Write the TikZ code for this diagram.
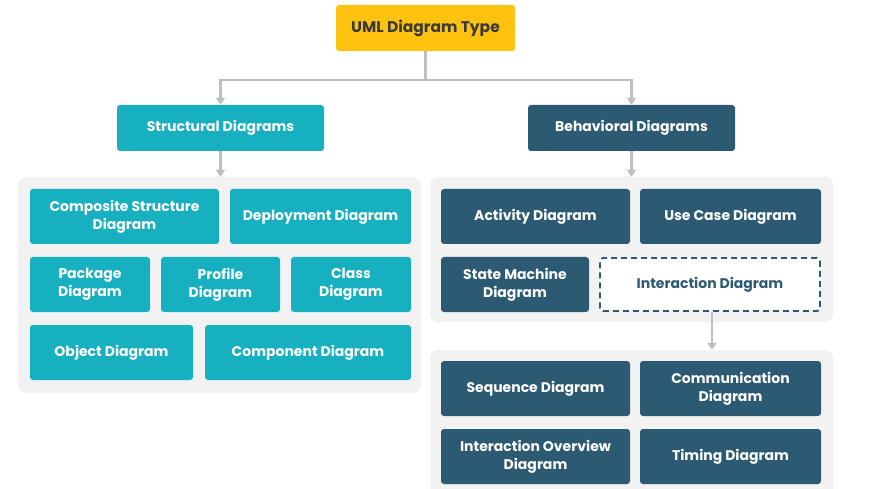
\documentclass[tikz,border=0pt]{standalone}
\usepackage{fontspec}
\setmainfont{Poppins}
\usetikzlibrary{arrows.meta}
\definecolor{uyellow}{HTML}{FFC20E}
\definecolor{uteal}{HTML}{17B0C0}
\definecolor{ublue}{HTML}{2D5A73}
\definecolor{upanel}{HTML}{F2F2F2}
\definecolor{uline}{HTML}{BFBFBF}
\definecolor{utext}{HTML}{3A3A3A}
\tikzset{
  box/.style={rounded corners=3pt, align=center, inner sep=0pt,
    font=\bfseries\fontsize{14}{18}\selectfont, text=white},
  tealbox/.style={box, fill=uteal},
  bluebox/.style={box, fill=ublue},
  panel/.style={fill=upanel, rounded corners=8pt, inner sep=0pt},
  conn/.style={draw=uline, line width=2.5pt, -{Triangle[length=7pt,width=9pt]}},
}
\newcommand{\bx}[6]{\node[#1, minimum width=#4pt, minimum height=#5pt] (#2) at (#3) {#6};}
\begin{document}
\begin{tikzpicture}[x=1pt,y=-1pt]
\useasboundingbox (0,0) rectangle (881,489);
% panels
\node[panel, minimum width=403pt, minimum height=216pt] (lp) at (219.5,285) {};
\node[panel, minimum width=403pt, minimum height=145pt] (rp1) at (631.5,249.5) {};
\node[panel, minimum width=403pt, minimum height=150pt] (rp2) at (631.5,425) {};
% top
\bx{box, fill=uyellow, text=utext, font=\bfseries\fontsize{15.5}{18}\selectfont}{top}{425.5,28}{179}{46}{UML Diagram Type}
\bx{tealbox}{struct}{220.5,128}{207}{46}{Structural Diagrams}
\bx{bluebox}{behav}{631.5,128}{207}{46}{Behavioral Diagrams}
% structural
\bx{tealbox}{comp}{124.5,216.5}{189}{55}{Composite Structure\\Diagram}
\bx{tealbox}{deploy}{320.5,216.5}{181}{55}{Deployment Diagram}
\bx{tealbox}{package}{90,284.5}{120}{55}{Package\\Diagram}
\bx{tealbox}{profile}{220.5,284.5}{119}{55}{Profile\\Diagram}
\bx{tealbox}{class}{351,284.5}{120}{55}{Class\\Diagram}
\bx{tealbox}{object}{111.5,352.5}{163}{55}{Object Diagram}
\bx{tealbox}{component}{308,352.5}{206}{55}{Component Diagram}
% behavioral
\bx{bluebox}{activity}{535.5,216.5}{189}{55}{Activity Diagram}
\bx{bluebox}{usecase}{730.5,216.5}{181}{55}{Use Case Diagram}
\bx{bluebox}{state}{515,284.5}{148}{55}{State Machine\\Diagram}
\node[box, fill=white, text=ublue, draw=ublue, line width=1.8pt,
  dash pattern=on 6pt off 4pt, minimum width=220pt, minimum height=53pt]
  (inter) at (710,284.5) {Interaction Diagram};
% interaction
\bx{bluebox}{sequence}{535.5,388.5}{189}{55}{Sequence Diagram}
\bx{bluebox}{communication}{730.5,388.5}{181}{55}{Communication\\Diagram}
\bx{bluebox}{overview}{535.5,456.5}{189}{55}{Interaction Overview\\Diagram}
\bx{bluebox}{timing}{730.5,456.5}{181}{55}{Timing Diagram}
% connectors
\coordinate (j) at (425.5,80);
\draw[conn] (top.south) -- (j) -| (struct.north);
\draw[conn] (top.south) -- (j) -| (behav.north);
\draw[conn] (struct.south) -- (struct.south |- lp.north);
\draw[conn] (behav.south) -- (behav.south |- rp1.north);
\draw[conn] ([xshift=2pt]inter.south) -- ([xshift=2pt]inter.south |- rp2.north);
\end{tikzpicture}
\end{document}
